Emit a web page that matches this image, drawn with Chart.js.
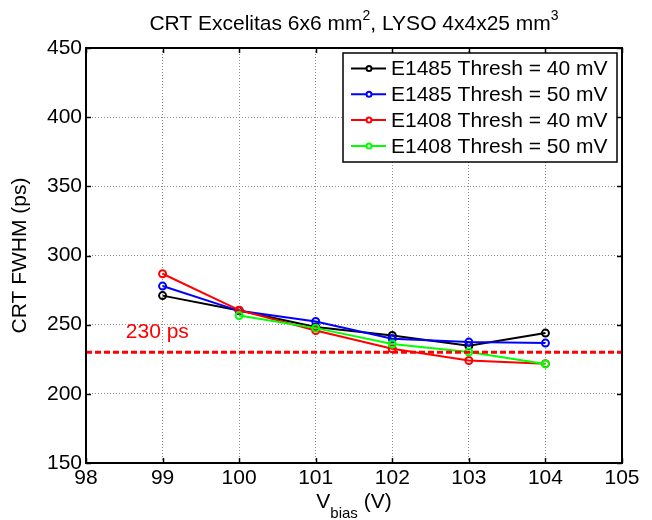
<!DOCTYPE html>
<html>
<head>
<meta charset="utf-8">
<script src="https://cdn.jsdelivr.net/npm/chart.js@4.4.1/dist/chart.umd.min.js"></script>
<style>
    body { margin: 0; background: #fff; }
</style>
</head>
<body>
<canvas id="crtChart" width="652" height="520"></canvas>
<script>
const vbias = [99, 100, 101, 102, 103, 104];
const e1485Thresh40 = [271, 260.3, 248.3, 242.2, 234.8, 243.9];
const e1485Thresh50 = [277.9, 260, 252.3, 239.8, 237.4, 236.7];
const e1408Thresh40 = [286.8, 260.5, 245.8, 232.6, 224.1, 221.8];
const e1408Thresh50 = [null, 256.6, 247.5, 236, 230.2, 221.5];
const seriesLabels = ["E1485 Thresh = 40 mV", "E1485 Thresh = 50 mV", "E1408 Thresh = 40 mV", "E1408 Thresh = 50 mV"];
const seriesColors = ["#000000", "#0000ff", "#ff0000", "#00ff00"];
const xTicks = [98, 99, 100, 101, 102, 103, 104, 105];
const yTicks = [150, 200, 250, 300, 350, 400, 450];
const threshold = 230;
const thresholdLabel = "230 ps";

const FONT = "'Liberation Sans', Arial, sans-serif";

function makeSeries(label, values, color, order) {
    return {
        label: label,
        data: vbias.map((v, i) => ({ x: v, y: values[i] })),
        borderColor: color,
        backgroundColor: color,
        borderWidth: 2,
        pointRadius: 3.5,
        pointBorderWidth: 2,
        pointBackgroundColor: "rgba(0,0,0,0)",
        pointBorderColor: color,
        order: order,
        tension: 0,
    };
}

// text with sub/superscript parts, x is the centre
function drawRich(ctx, parts, cx, baseY) {
    let total = 0;
    parts.forEach(p => {
        ctx.font = (p.size || 21) + "px " + FONT;
        p.w = ctx.measureText(p.t).width;
        total += p.w;
    });
    let x = cx - total / 2;
    ctx.textAlign = "left";
    ctx.textBaseline = "alphabetic";
    parts.forEach(p => {
        ctx.font = (p.size || 21) + "px " + FONT;
        ctx.fillText(p.t, x, baseY + (p.dy || 0));
        x += p.w;
    });
}

const matlabFrame = {
    id: "matlabFrame",
    afterDraw(chart) {
        const ctx = chart.ctx;
        const area = chart.chartArea;
        const xs = chart.scales.x;
        const ys = chart.scales.y;
        ctx.save();
        ctx.fillStyle = "#000";

        // axes box and inward ticks
        ctx.strokeStyle = "#000";
        ctx.lineWidth = 2;
        ctx.strokeRect(area.left, area.top, area.right - area.left, area.bottom - area.top);
        ctx.lineWidth = 1.5;
        ctx.beginPath();
        xTicks.forEach(v => {
            const px = Math.round(xs.getPixelForValue(v)) + 0.5;
            ctx.moveTo(px, area.bottom); ctx.lineTo(px, area.bottom - 5);
            ctx.moveTo(px, area.top); ctx.lineTo(px, area.top + 5);
        });
        yTicks.forEach(v => {
            const py = Math.round(ys.getPixelForValue(v)) + 0.5;
            ctx.moveTo(area.left, py); ctx.lineTo(area.left + 5, py);
            ctx.moveTo(area.right, py); ctx.lineTo(area.right - 5, py);
        });
        ctx.stroke();

        // threshold label
        ctx.fillStyle = "#ff0000";
        ctx.font = "21px " + FONT;
        ctx.textAlign = "left";
        ctx.textBaseline = "alphabetic";
        ctx.fillText(thresholdLabel, xs.getPixelForValue(98.52), ys.getPixelForValue(threshold) - 14);

        // title, axis titles
        ctx.fillStyle = "#000";
        const cx = (area.left + area.right) / 2;
        drawRich(ctx, [
            { t: "CRT Excelitas 6x6 mm" },
            { t: "2", size: 14, dy: -10 },
            { t: ", LYSO 4x4x25 mm" },
            { t: "3", size: 14, dy: -10 },
        ], cx, 30);
        drawRich(ctx, [
            { t: "V" },
            { t: "bias", size: 15, dy: 10 },
            { t: " (V)" },
        ], cx, 508);

        ctx.save();
        ctx.translate(26, (area.top + area.bottom) / 2);
        ctx.rotate(-Math.PI / 2);
        ctx.font = "21px " + FONT;
        ctx.textAlign = "center";
        ctx.fillText("CRT FWHM (ps)", 0, 0);
        ctx.restore();

        // legend
        const lx = area.right - 279, ly = 53, lw = 274, lh = 109;
        ctx.fillStyle = "#fff";
        ctx.fillRect(lx, ly, lw, lh);
        ctx.strokeStyle = "#000";
        ctx.lineWidth = 1.5;
        ctx.strokeRect(lx, ly, lw, lh);
        seriesLabels.forEach((label, i) => {
            const ry = ly + 15.5 + i * 25.8;
            ctx.strokeStyle = seriesColors[i];
            ctx.lineWidth = 2;
            ctx.beginPath();
            ctx.moveTo(lx + 8, ry); ctx.lineTo(lx + 43, ry);
            ctx.stroke();
            ctx.beginPath();
            ctx.arc(lx + 26, ry, 2.5, 0, Math.PI * 2);
            ctx.fillStyle = "#fff";
            ctx.fill();
            ctx.stroke();
            ctx.fillStyle = "#000";
            ctx.font = "21px " + FONT;
            ctx.textAlign = "left";
            ctx.textBaseline = "middle";
            ctx.fillText(label, lx + 48, ry + 1);
        });
        ctx.restore();
    },
};

const tickFont = { family: FONT, size: 21 };

new Chart(document.getElementById("crtChart"), {
    type: "line",
    data: {
        datasets: [
            makeSeries(seriesLabels[0], e1485Thresh40, seriesColors[0], 4),
            makeSeries(seriesLabels[1], e1485Thresh50, seriesColors[1], 3),
            makeSeries(seriesLabels[2], e1408Thresh40, seriesColors[2], 2),
            makeSeries(seriesLabels[3], e1408Thresh50, seriesColors[3], 1),
            {
                label: thresholdLabel,
                data: [{ x: 98, y: threshold }, { x: 105, y: threshold }],
                borderColor: "#ff0000",
                borderWidth: 3,
                borderDash: [6, 3],
                pointRadius: 0,
                order: 0,
            },
        ],
    },
    options: {
        responsive: false,
        animation: false,
        layout: { padding: { top: 48, right: 30, left: 0, bottom: 0 } },
        plugins: {
            legend: { display: false },
            title: { display: false },
            tooltip: { enabled: false },
        },
        scales: {
            x: {
                type: "linear",
                min: 98,
                max: 105,
                afterBuildTicks: s => { s.ticks = xTicks.map(v => ({ value: v })); },
                afterFit: s => { s.height = 57; },
                ticks: { font: tickFont, color: "#000", padding: 3, maxRotation: 0, autoSkip: false },
                grid: { color: "#8c8c8c", drawTicks: false, lineWidth: 1 },
                border: { display: false, dash: [1, 2] },
            },
            y: {
                min: 150,
                max: 450,
                afterBuildTicks: s => { s.ticks = yTicks.map(v => ({ value: v })); },
                afterFit: s => { s.width = 86; },
                ticks: { font: tickFont, color: "#000", padding: 4, autoSkip: false },
                grid: { color: "#8c8c8c", drawTicks: false, lineWidth: 1 },
                border: { display: false, dash: [1, 2] },
            },
        },
    },
    plugins: [matlabFrame],
});
</script>
</body>
</html>
